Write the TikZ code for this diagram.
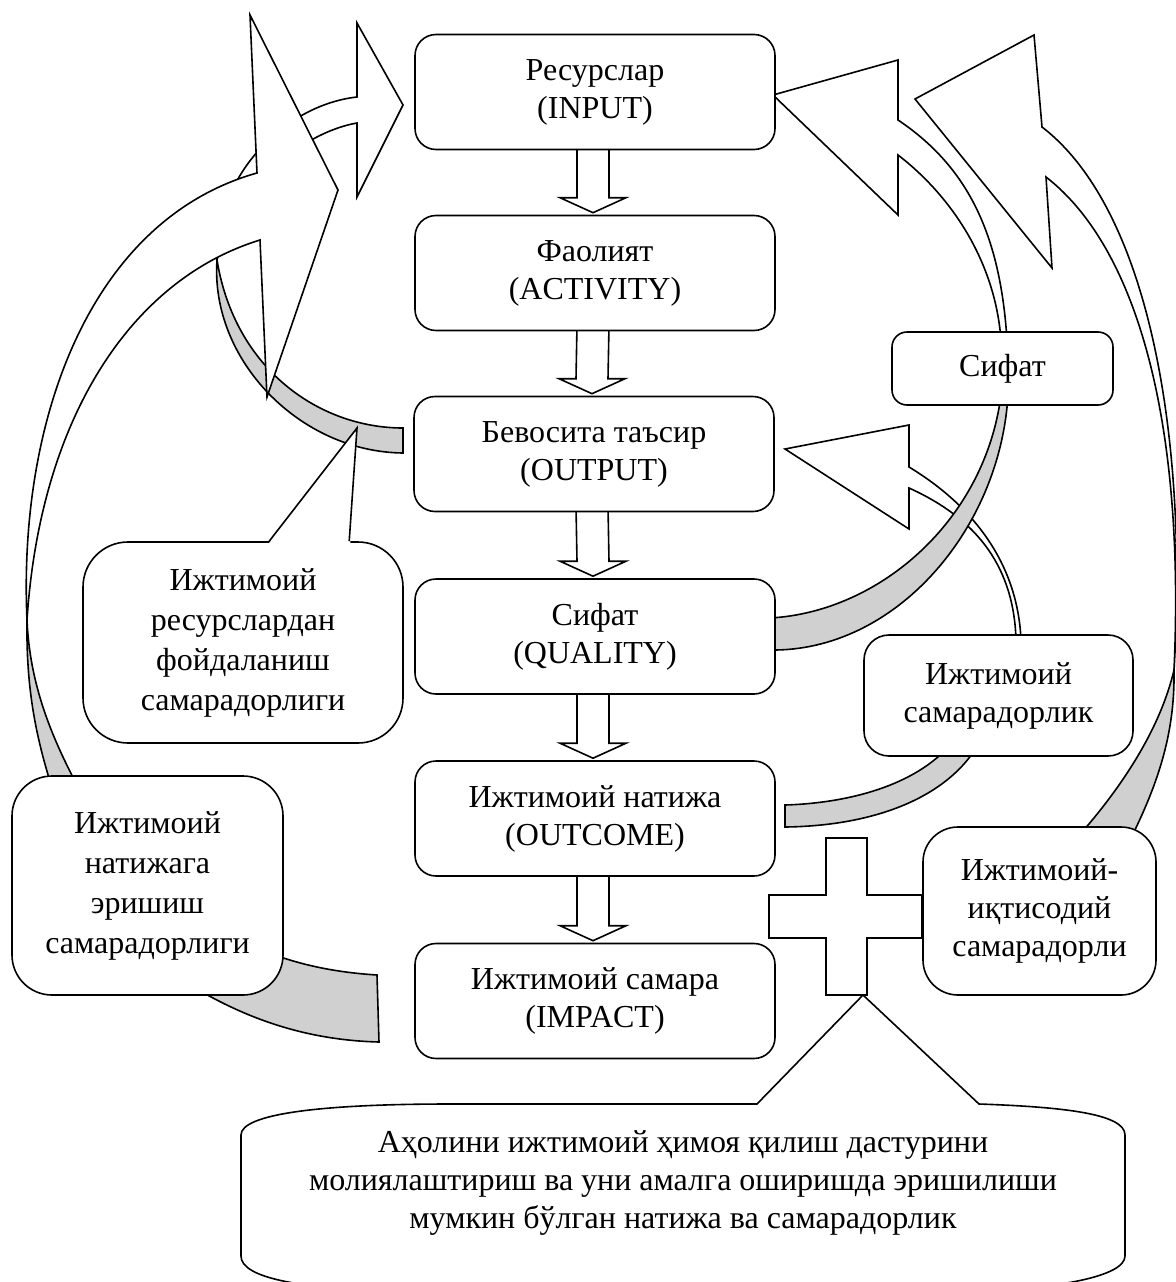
\documentclass[tikz,border=0pt]{standalone}
\usepackage{fontspec}
\setmainfont{Liberation Serif}
\usetikzlibrary{calc,backgrounds}
\definecolor{bandgray}{RGB}{208,208,208}
\newcommand\blockdown[2]{%
  \draw[fill=white] ($(#1.south)+(-18,-6)$) -- ($(#2.north)+(-18,-17)$) -- ($(#2.north)+(-35,-17)$) -- ($(#2.north)+(-2,-2)$) -- ($(#2.north)+(31,-17)$) -- ($(#2.north)+(14,-17)$) -- ($(#1.south)+(14,-6)$) -- cycle;}
\begin{document}
\begin{tikzpicture}[x=1pt,y=-1pt,line width=1.6pt,line join=miter,
  txt/.style={font=\fontsize{32}{38}\selectfont, align=center},
  mainbox/.style={draw, fill=white, rounded corners=21, minimum width=360, minimum height=115, inner sep=0pt, txt},
  sidebox/.style={draw, fill=white, rounded corners=#1, inner sep=0pt, txt},
  front/.style={draw, fill=white, line width=1.6pt},
  back/.style={draw, fill=bandgray, line width=1.6pt}]
\useasboundingbox (0,0) rectangle (1175,1282);

% central chain
\node[mainbox] (in)   at (595,92)     {Ресурслар\\(INPUT)};
\node[mainbox] (act)  at (595,273)    {Фаолият\\(ACTIVITY)};
\node[mainbox] (out)  at (594,454)    {Бевосита таъсир\\(OUTPUT)};
\node[mainbox] (qual) at (595,636.5)  {Сифат\\(QUALITY)};
\node[mainbox] (outc) at (595,818.5)  {Ижтимоий натижа\\(OUTCOME)};
\node[mainbox] (imp)  at (595,1001)   {Ижтимоий самара\\(IMPACT)};

% side boxes
\node[sidebox=15, minimum width=221, minimum height=73]  (sif)  at (1002.5,368.5) {Сифат};
\node[sidebox=25, minimum width=269, minimum height=121] (isam) at (998.5,695.5) {Ижтимоий\\самарадорлик};
\node[sidebox=35, minimum width=233, minimum height=168] (iiq)  at (1039.5,911) {Ижтимоий-\\иқтисодий\\самарадорли};
\node[sidebox=40, minimum width=271, minimum height=219, font=\fontsize{32}{40}\selectfont] (inat) at (147.5,885.5) {Ижтимоий\\натижага\\эришиш\\самарадорлиги};
\node[sidebox=45, minimum width=320, minimum height=201, font=\fontsize{32}{40}\selectfont] (res)  at (243,642.5) {Ижтимоий\\ресурслардан\\фойдаланиш\\самарадорлиги};

% pointer of the left callout
\coordinate (restip) at (357,428);
\fill[white] ($(res.north west)+(186,3)$) -- (restip) -- ($(res.north west)+(268,3)$) -- cycle;
\draw ($(res.north west)+(187,0)$) -- (restip) -- ($(res.north west)+(267,0)$);

% plus sign
\draw[fill=white] (826,838) -- (867,838) -- (867,895) -- (iiq.west |- 0,895) -- (iiq.west |- 0,938) -- (867,938) -- (867,995) -- (826,995) -- (826,938) -- (769,938) -- (769,895) -- (826,895) -- cycle;
\coordinate (plusbot) at (863,995);

% bottom callout
\draw[fill=white] (241,1135) .. controls (241,1114) and (320,1104) .. (450,1104) -- (757,1104) -- (plusbot) -- (979,1104) .. controls (1065,1107) and (1125,1114) .. (1125,1135) -- (1125,1256) .. controls (1125,1276) and (1060,1290) .. (950,1292) -- (420,1292) .. controls (300,1290) and (241,1278) .. (241,1256) -- cycle;
\node[txt] (ltxt) at (683,1183) {Аҳолини ижтимоий ҳимоя қилиш дастурини\\молиялаштириш ва уни амалга оширишда эришилиши\\мумкин бўлган натижа ва самарадорлик};

\begin{pgfonlayer}{background}
\begin{scope}[line width=1.6pt, line join=miter]
% down block arrows
\blockdown{in}{act}
\blockdown{act}{out}
\blockdown{out}{qual}
\blockdown{qual}{outc}
\blockdown{outc}{imp}

% H : outcome -> output
\draw[back] (785,805) .. controls (850,803) and (915,785) .. (950,745) -- (978,745) .. controls (945,800) and (870,826) .. (785,827) -- cycle;
\draw[front] (1016,640) .. controls (1014,570) and (980,520) .. (909,488) -- (909,529) -- (785,449) -- (909,425) -- (909,467) .. controls (980,510) and (1018,570) .. (1021,640) -- cycle;

% F : quality -> input
\draw[front] (1001,340) .. controls (995,260) and (950,195) .. (898,155) -- (898,215) -- (773,95) -- (898,60) -- (898,120) .. controls (965,165) and (1000,230) .. (1007,340) -- cycle;
\draw[back] (770,618) .. controls (880,612) and (985,520) .. (1001,395) -- (1008,395) .. controls (1000,530) and (895,652) .. (770,650) -- cycle;

% G : outer right
\draw[front] (1174,670) .. controls (1185,430) and (1140,250) .. (1046,177) -- (1052,268) -- (915,99) -- (1034,35) -- (1042,127) .. controls (1150,210) and (1188,440) .. (1174,670) -- cycle;
\draw[back] (1174,670) .. controls (1160,730) and (1120,790) .. (1075,840) -- (1130,840) .. controls (1160,780) and (1175,730) .. (1174,670) -- cycle;

% A : output -> input (left, small)
\draw[back] (403,428) .. controls (320,428) and (235,370) .. (217,260) .. controls (210,360) and (300,452) .. (403,453) -- cycle;
\draw[front] (217,260) .. controls (215,175) and (285,105) .. (357,97) -- (357,23) -- (403,105) -- (357,197) -- (357,123) .. controls (300,133) and (235,190) .. (217,260) -- cycle;

% B : impact -> input (left, big)
\draw[back] (27,620) .. controls (26,690) and (36,740) .. (56,800) -- (85,800) .. controls (55,745) and (30,690) .. (27,620) -- cycle;
\draw[back] (377,975) -- (379,1042) .. controls (300,1040) and (240,1015) .. (190,985) -- (250,945) .. controls (290,963) and (330,972) .. (377,975) -- cycle;
\draw[front] (27,620) .. controls (18,420) and (90,220) .. (257,173) -- (250,15) -- (338,190) -- (267,397) -- (260,240) .. controls (130,280) and (40,420) .. (27,620) -- cycle;
\end{scope}
\end{pgfonlayer}
\end{tikzpicture}
\end{document}
